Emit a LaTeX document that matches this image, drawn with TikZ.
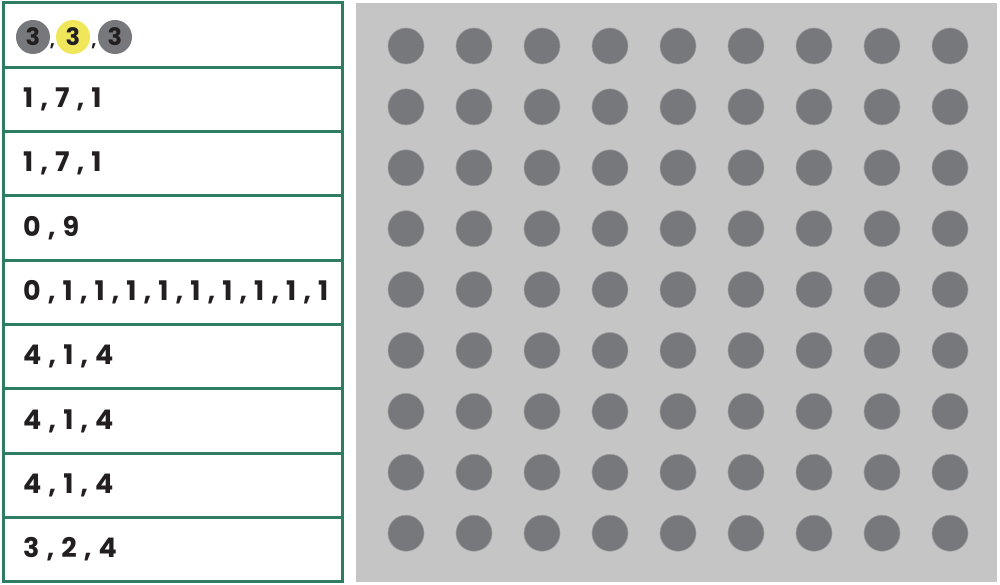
\documentclass[tikz,border=0pt]{standalone}
\usepackage{fontspec}
\setmainfont{Poppins}[Numbers=Monospaced]
\definecolor{tgreen}{HTML}{2E7D63}
\definecolor{panel}{HTML}{C4C5C4}
\definecolor{dot}{HTML}{77787B}
\definecolor{dotrim}{HTML}{9A9B9D}
\definecolor{hl}{HTML}{F0E65A}
\definecolor{ink}{HTML}{231F20}
\begin{document}
\begin{tikzpicture}[x=1pt,y=-1pt,
  cellbox/.style={draw=tgreen,line width=3pt,fill=white},
  rowtext/.style={anchor=west,font=\fontsize{27}{30}\selectfont\bfseries\addfontfeature{LetterSpace=26},text=ink,inner sep=0pt},
  griddot/.style={circle,fill=dot,draw=dotrim,line width=0.6pt,minimum size=36pt,inner sep=0pt},
  numdot/.style={circle,minimum size=34pt,inner sep=0pt,font=\fontsize{24}{26}\selectfont\bfseries,text=ink}]
\useasboundingbox (0,0) rectangle (1000,585);
\fill[white] (0,0) rectangle (1000,585);
% right panel
\fill[panel] (356,3) rectangle (997,582);
\foreach \i in {0,...,8}{
  \foreach \j in {0,...,8}{
    \node[griddot] (d\i\j) at ({406+68*\i},{46+60.9*\j}) {};
  }
}
% table
\foreach \r in {0,...,8}{
  \draw[cellbox] (3,{3+64.3*\r}) rectangle (342,{3+64.3*(\r+1)});
}
\node[numdot,fill=dot] (c1) at (33,37) {3};
\node[numdot,fill=hl] (c2) at (73,37) {3};
\node[numdot,fill=dot] (c3) at (115,37) {3};
\node[inner sep=0pt,font=\fontsize{18}{20}\selectfont\bfseries,text=ink] (k1) at (52.5,46) {,};
\node[inner sep=0pt,font=\fontsize{18}{20}\selectfont\bfseries,text=ink] (k2) at (94,46) {,};
\node[rowtext] (t1) at (23,{3+64.3*1.5}) {1,7,1};
\node[rowtext] (t2) at (23,{3+64.3*2.5}) {1,7,1};
\node[rowtext] (t3) at (23,{3+64.3*3.5}) {0,9};
\node[rowtext] (t4) at (23,{3+64.3*4.5}) {0,1,1,1,1,1,1,1,1,1};
\node[rowtext] (t5) at (23,{3+64.3*5.5}) {4,1,4};
\node[rowtext] (t6) at (23,{3+64.3*6.5}) {4,1,4};
\node[rowtext] (t7) at (23,{3+64.3*7.5}) {4,1,4};
\node[rowtext] (t8) at (23,{3+64.3*8.5}) {3,2,4};
\end{tikzpicture}
\end{document}
